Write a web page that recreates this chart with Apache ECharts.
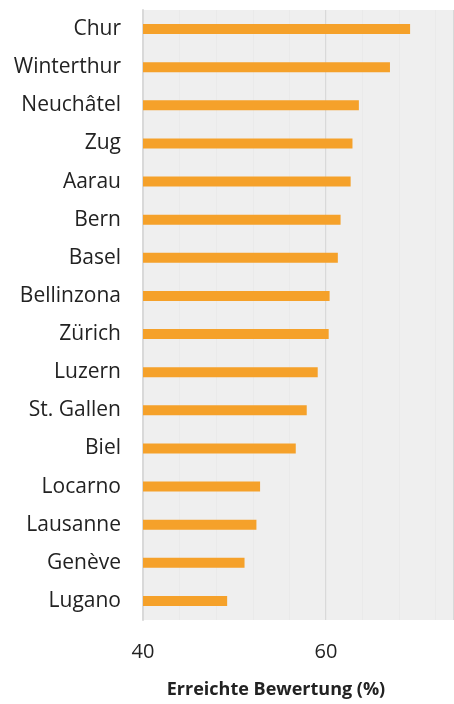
<!DOCTYPE html>
<html><head><meta charset="utf-8">
<script src="https://cdn.jsdelivr.net/npm/echarts@6/dist/echarts.min.js"></script>
<style>html,body{margin:0;padding:0;background:#fff}#c{width:454px;height:704px}</style>
</head><body><div id="c"></div>
<script>
const cities = ["Chur","Winterthur","Neuchâtel","Zug","Aarau","Bern","Basel","Bellinzona","Zürich","Luzern","St. Gallen","Biel","Locarno","Lausanne","Genève","Lugano"];
const scores = [69.2,67.0,63.6,62.9,62.7,61.6,61.3,60.4,60.3,59.1,57.9,56.7,52.8,52.4,51.1,49.2];
const xTicks = [40,60];
const axisTitle = "Erreichte Bewertung (%)";

const chart = echarts.init(document.getElementById('c'), null, {renderer:'canvas'});
const FONT = "Open Sans";
chart.setOption({
  animation:false,
  grid:{left:143,right:-1,top:10,bottom:84,show:true,backgroundColor:'#efefef',borderWidth:0},
  xAxis:[{
    type:'value',min:40,max:74,interval:20,
    axisLine:{show:false},
    axisTick:{show:false},
    axisLabel:{showMaxLabel:false,margin:22,fontFamily:FONT,fontSize:20,color:'#222',
      formatter:v=>xTicks.includes(v)?String(v):''},
    splitLine:{show:true,lineStyle:{color:'#d9d9d9',width:2}}
  },{
    type:'value',min:40,max:74,interval:4,position:'bottom',
    axisLine:{show:false},axisTick:{show:false},axisLabel:{show:false},
    splitLine:{show:true,lineStyle:{color:'#eaeaea',width:1}}
  }],
  yAxis:{
    type:'category',data:cities,inverse:true,
    axisLine:{show:true,lineStyle:{color:'#d9d9d9',width:2}},axisTick:{show:false},
    axisLabel:{margin:22,fontFamily:FONT,fontSize:21,color:'#222',padding:[3,0,0,0]}
  },
  series:[{
    type:'bar',data:scores,xAxisIndex:0,barWidth:10,
    itemStyle:{color:'#f5a12a'},z:3
  }],
  graphic:[{type:'text',x:276,y:681,style:{text:axisTitle,align:'center',fontFamily:FONT,fontSize:18,fontWeight:'bold',fill:'#222'}}]
});
</script></body></html>
